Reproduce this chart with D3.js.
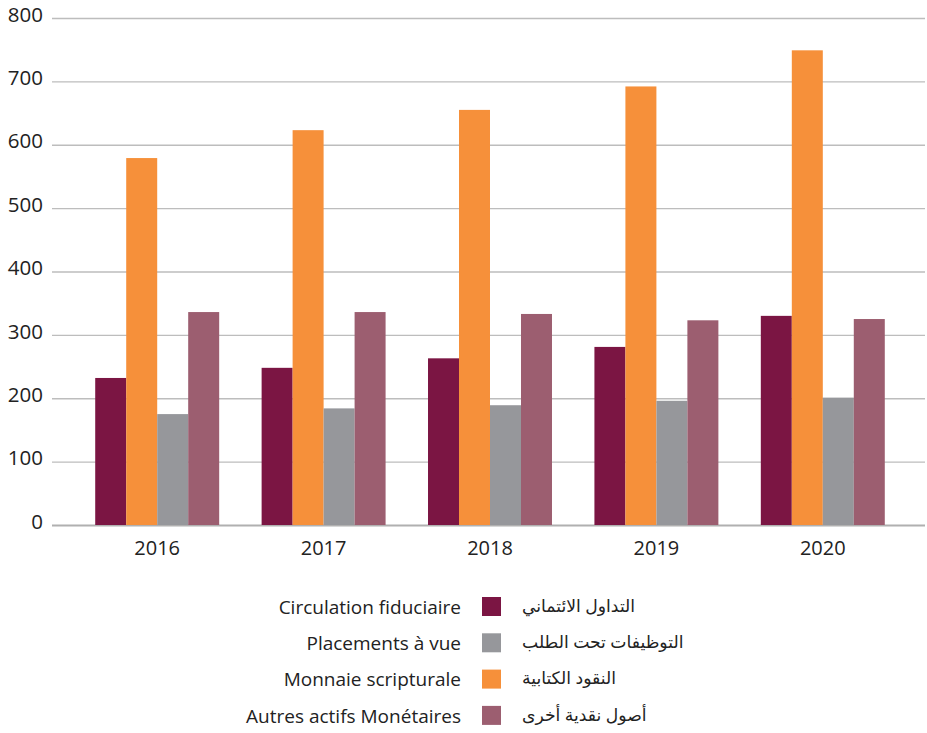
<!DOCTYPE html>
<html>
<head>
<meta charset="utf-8">
<script src="https://cdn.jsdelivr.net/npm/d3@7"></script>
<style>
  html, body { margin: 0; padding: 0; background: #fff; }
  svg text { font-family: "Open Sans", "Noto Sans", sans-serif; fill: #222; }
</style>
</head>
<body>
<svg id="chart" width="927" height="733"></svg>
<script>
// Years on the x axis
const years = ["2016", "2017", "2018", "2019", "2020"];

// Series values (drawn in this order inside each year group)
const circulation = [232, 248, 263, 281, 330];
const monnaie = [579, 623, 655, 692, 749];
const placements = [175, 184, 189, 196, 201];
const autres = [336, 336, 333, 323, 325];

// Y axis ticks
const yTicks = [0, 100, 200, 300, 400, 500, 600, 700, 800];

// Series metadata: bar order, colour, legend labels
const seriesKeys = ["circulation", "monnaie", "placements", "autres"];
const seriesValues = { circulation, monnaie, placements, autres };
const colors = {
  circulation: "#7B1543",
  placements: "#96979B",
  monnaie: "#F6903A",
  autres: "#9C5E70"
};
const legendOrder = ["circulation", "placements", "monnaie", "autres"];
const labelsFr = {
  circulation: "Circulation fiduciaire",
  placements: "Placements à vue",
  monnaie: "Monnaie scripturale",
  autres: "Autres actifs Monétaires"
};
const labelsAr = {
  circulation: "التداول الائتماني",
  placements: "التوظيفات تحت الطلب",
  monnaie: "النقود الكتابية",
  autres: "أصول نقدية أخرى"
};

const svg = d3.select("#chart");

const gridLeft = 52, gridRight = 925;
const y = d3.scaleLinear().domain([0, 800]).range([525, 18]);
const x = d3.scaleBand().domain(years).range([74, 906]).paddingInner(0.255).paddingOuter(0.1275);
const xs = d3.scaleBand().domain(seriesKeys).range([0, x.bandwidth()]);

// Gridlines
svg.append("g")
  .selectAll("line")
  .data(yTicks)
  .join("line")
  .attr("x1", gridLeft)
  .attr("x2", gridRight)
  .attr("y1", d => y(d) + 0.5)
  .attr("y2", d => y(d) + 0.5)
  .attr("stroke", d => d === 0 ? "#b0b0b0" : "#bdbdbd")
  .attr("stroke-width", d => d === 0 ? 2 : 1.4);

// Y tick labels (sit slightly above their gridline)
svg.append("g")
  .selectAll("text")
  .data(yTicks)
  .join("text")
  .attr("x", 43)
  .attr("y", d => y(d) - 3.5)
  .attr("dy", "0.35em")
  .attr("text-anchor", "end")
  .attr("font-size", 20.5)
  .text(d => d);

// Bars
const groups = svg.append("g")
  .selectAll("g")
  .data(years)
  .join("g")
  .attr("transform", d => `translate(${x(d)},0)`);

groups.selectAll("rect")
  .data((yr, i) => seriesKeys.map(k => ({ key: k, value: seriesValues[k][i] })))
  .join("rect")
  .attr("x", d => xs(d.key))
  .attr("width", xs.bandwidth())
  .attr("y", d => y(d.value))
  .attr("height", d => y(0) - y(d.value))
  .attr("fill", d => colors[d.key]);

// X labels
svg.append("g")
  .selectAll("text")
  .data(years)
  .join("text")
  .attr("x", d => x(d) + x.bandwidth() / 2)
  .attr("y", 555)
  .attr("text-anchor", "middle")
  .attr("font-size", 20)
  .text(d => d);

// Legend
const legend = svg.append("g")
  .selectAll("g")
  .data(legendOrder)
  .join("g")
  .attr("transform", (d, i) => `translate(0,${606.5 + i * 36.3})`);

legend.append("rect")
  .attr("x", 482)
  .attr("y", -9.5)
  .attr("width", 19)
  .attr("height", 19)
  .attr("fill", d => colors[d]);

legend.append("text")
  .attr("x", 461)
  .attr("dy", "0.38em")
  .attr("text-anchor", "end")
  .attr("font-size", 19)
  .text(d => labelsFr[d]);

legend.append("text")
  .attr("x", 522)
  .attr("dy", "0.3em")
  .attr("text-anchor", "start")
  .attr("font-size", 17.2)
  .style("font-family", "'Noto Sans', 'DejaVu Sans', sans-serif")
  .text(d => labelsAr[d]);
</script>
</body>
</html>
